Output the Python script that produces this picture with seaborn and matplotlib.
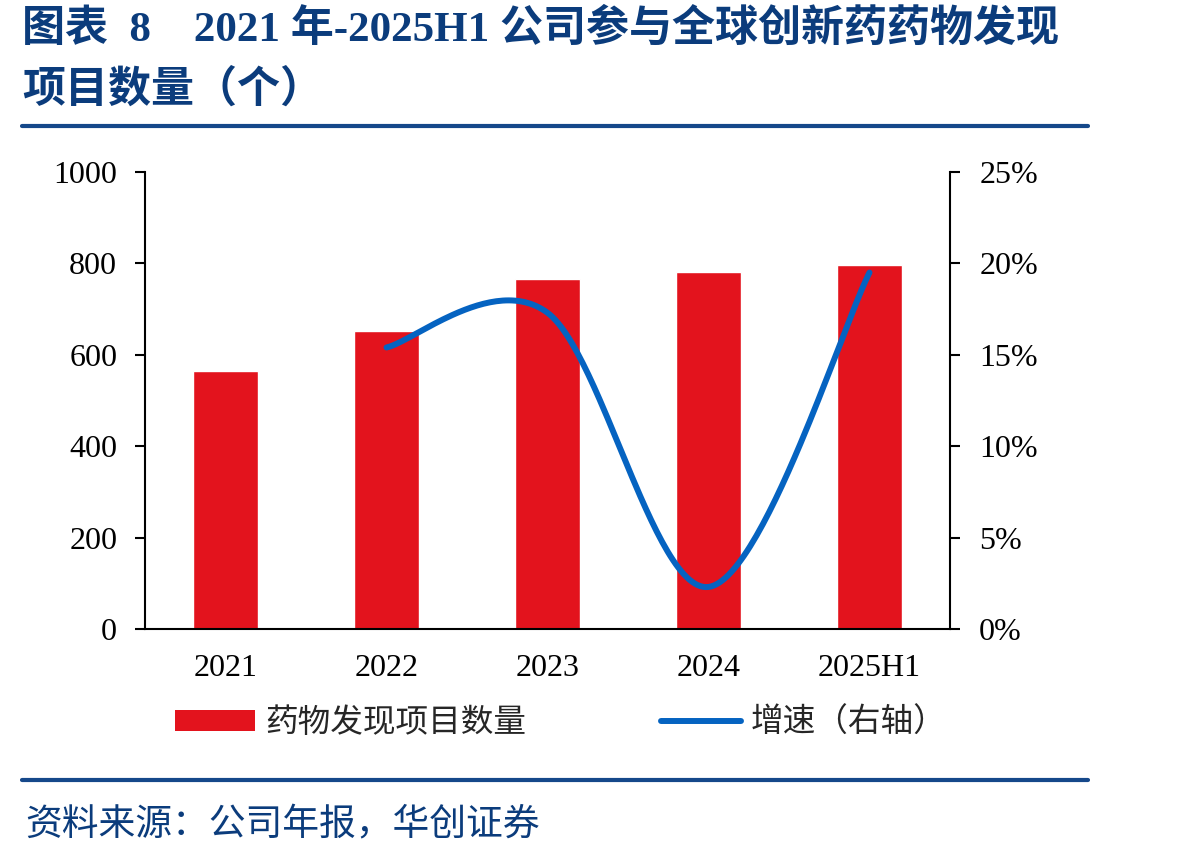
import numpy as np
import matplotlib
matplotlib.use("Agg")
import matplotlib.pyplot as plt
import seaborn as sns
from matplotlib.lines import Line2D
from matplotlib.patches import Patch

# ---- data ----
years = ['2021', '2022', '2023', '2024', '2025H1']
projects = [565, 652, 765, 782, 796]
growth_years = ['2022', '2023', '2024', '2025H1']
growth = [15.4, 17.3, 2.3, 19.5]  # %
left_ticks = [0, 200, 400, 600, 800, 1000]
right_ticks = [0, 5, 10, 15, 20, 25]

title_line1 = "图表  8    2021 年-2025H1 公司参与全球创新药药物发现"
title_line2 = "项目数量（个）"
bar_label = "药物发现项目数量"
line_label = "增速（右轴）"
source = "资料来源：公司年报，华创证券"

# ---- style ----
sns.set_style("white")
plt.rcParams['font.family'] = ['Liberation Serif', 'Noto Sans CJK SC', 'DejaVu Sans']
BAR = '#E3131D'
LINE = '#0563C1'
NAVY = '#0B3C7C'
RULE = '#15488A'
W, H = 1198, 856

fig = plt.figure(figsize=(W / 100, H / 100), dpi=100)
ax = fig.add_axes([145 / W, 1 - 629 / H, 805 / W, 457 / H])

sns.barplot(x=years, y=projects, color=BAR, saturation=1, width=0.4, ax=ax, zorder=2)
ax.set_xlim(-0.5, 4.5)
ax.set_ylim(0, 1000)
ax.set_yticks(left_ticks)
ax.set_yticklabels([str(v) for v in left_ticks])
ax.set_xlabel('')
ax.set_ylabel('')

for s in ['top', 'right']:
    ax.spines[s].set_visible(False)
for s in ['left', 'bottom']:
    ax.spines[s].set_color('black')
    ax.spines[s].set_linewidth(1.5)

ax.set_xticks(np.arange(-0.5, 5, 1), minor=True)
ax.tick_params(axis='x', which='major', length=0, pad=18, labelsize=23, colors='black')
ax.tick_params(axis='x', which='minor', length=7, width=1.5, direction='out', color='black')
ax.tick_params(axis='y', which='major', length=7, width=1.5, direction='out', pad=13,
               labelsize=23, colors='black', left=True)
for t in ax.get_xticklabels() + ax.get_yticklabels():
    t.set_family('Liberation Serif')

# ---- right axis: smooth line ----
ax2 = ax.twinx()
ax2.set_ylim(0, 25)
ax2.set_yticks(right_ticks)
ax2.set_yticklabels([f"{v}%" for v in right_ticks])
for s in ['top', 'left', 'bottom']:
    ax2.spines[s].set_visible(False)
ax2.spines['right'].set_color('black')
ax2.spines['right'].set_linewidth(1.5)
ax2.tick_params(axis='y', length=7, width=1.5, direction='out', pad=14, labelsize=23,
                colors='black', right=True)
for t in ax2.get_yticklabels():
    t.set_family('Liberation Serif')

# smoothed curve through the data points (cardinal / Catmull-Rom Bezier)
xp = np.array([years.index(y) for y in growth_years], dtype=float)
yp = np.array(growth, dtype=float)
P = np.column_stack([xp, yp])
Pe = np.vstack([P[0], P, P[-1]])
tt = np.linspace(0, 1, 60)[:, None]
segs = []
for i in range(len(P) - 1):
    p0, p1, p2, p3 = Pe[i], Pe[i + 1], Pe[i + 2], Pe[i + 3]
    c1 = p1 + (p2 - p0) / 6
    c2 = p2 - (p3 - p1) / 6
    seg = ((1 - tt) ** 3) * p1 + 3 * ((1 - tt) ** 2) * tt * c1 + 3 * (1 - tt) * tt ** 2 * c2 + tt ** 3 * p2
    segs.append(seg if i == 0 else seg[1:])
curve = np.vstack(segs)
ax2.plot(curve[:, 0], curve[:, 1], color=LINE, lw=4.3, solid_capstyle='round', zorder=3)
ax2.set_xlim(-0.5, 4.5)

# ---- legend ----
handles = [Patch(facecolor=BAR, edgecolor='none'),
           Line2D([0], [0], color=LINE, lw=4.3, solid_capstyle='round')]
fig.legend(handles, [bar_label, line_label], loc='center left',
           bbox_to_anchor=(175 / W, 1 - 723 / H), ncol=2, frameon=False,
           prop={'family': ['Noto Sans CJK SC'], 'size': 23.5},
           handlelength=2.45, handleheight=0.6, handletextpad=0.3,
           columnspacing=4.15, borderpad=0, borderaxespad=0)

# ---- title, rules, source ----
tfam = ['Liberation Serif', 'Noto Sans CJK SC']
fig.text(22 / W, 1 - 29 / H, title_line1, fontsize=31, fontweight='bold', color=NAVY,
         family=tfam, va='center', ha='left')
fig.text(22 / W, 1 - 90 / H, title_line2, fontsize=31, fontweight='bold', color=NAVY,
         family=tfam, va='center', ha='left')
fig.add_artist(Line2D([22 / W, 1088 / W], [1 - 126 / H] * 2, color=RULE, lw=3))
fig.add_artist(Line2D([22 / W, 1088 / W], [1 - 780 / H] * 2, color=RULE, lw=3))
fig.text(25 / W, 1 - 825 / H, source, fontsize=26.5, color=NAVY,
         family=['Noto Sans CJK SC'], va='center', ha='left')

fig.savefig('out.png', dpi=100)
